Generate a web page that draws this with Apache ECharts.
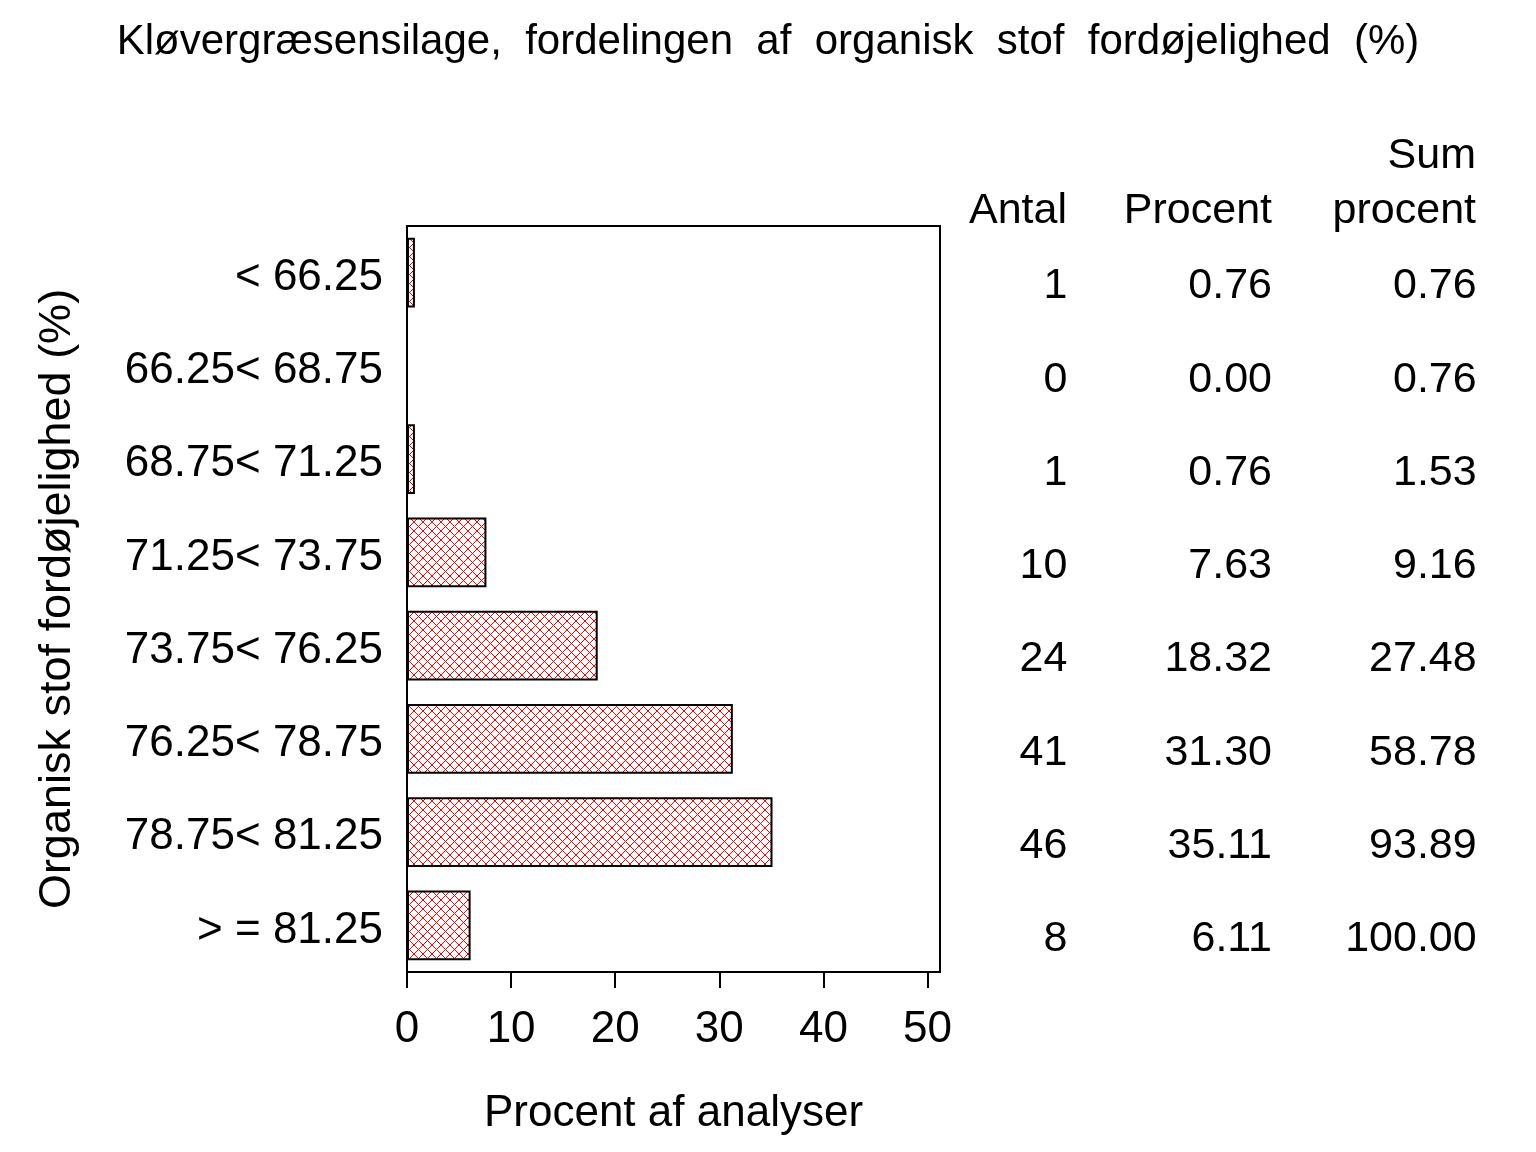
<!DOCTYPE html>
<html>
<head>
<meta charset="utf-8">
<script src="https://cdn.jsdelivr.net/npm/echarts@6/dist/echarts.min.js"></script>
<style>
  html, body { margin: 0; padding: 0; background: #fff; }
  #main { width: 1536px; height: 1152px; }
</style>
</head>
<body>
<div id="main"></div>
<script>
const categories = ['< 66.25', '66.25< 68.75', '68.75< 71.25', '71.25< 73.75',
  '73.75< 76.25', '76.25< 78.75', '78.75< 81.25', '> = 81.25'];
const antal = [1, 0, 1, 10, 24, 41, 46, 8];
const procent = [0.76, 0.00, 0.76, 7.63, 18.32, 31.30, 35.11, 6.11];
const sumProcent = [0.76, 0.76, 1.53, 9.16, 27.48, 58.78, 93.89, 100.00];
const xTicks = [0, 10, 20, 30, 40, 50];
const tableCols = ['Antal', 'Procent', 'Sum procent'];

const FONT = '"Liberation Sans", Arial, sans-serif';

// red cross-hatch fill
function hatch() {
  const c = document.createElement('canvas');
  c.width = 9; c.height = 9;
  const g = c.getContext('2d');
  g.fillStyle = '#fff';
  g.fillRect(0, 0, 9, 9);
  g.strokeStyle = '#ff0000';
  g.lineWidth = 1;
  g.beginPath();
  g.moveTo(0, 0); g.lineTo(9, 9);
  g.moveTo(9, 0); g.lineTo(0, 9);
  g.stroke();
  return c;
}

// table cells: [column, row, text]
const cells = [];
categories.forEach((c, i) => {
  cells.push([0, i, String(antal[i])]);
  cells.push([1, i, procent[i].toFixed(2)]);
  cells.push([2, i, sumProcent[i].toFixed(2)]);
});

const chart = echarts.init(document.getElementById('main'));
chart.setOption({
  animation: false,
  backgroundColor: '#fff',
  textStyle: { fontFamily: FONT, color: '#000' },
  title: {
    text: 'Kløvergræsensilage,  fordelingen  af  organisk  stof  fordøjelighed  (%)',
    left: 'center', top: 16,
    textStyle: { fontFamily: FONT, fontSize: 42, fontWeight: 'normal', color: '#000' }
  },
  grid: [
    { left: 407, top: 226, width: 533, bottom: 180, containLabel: false,
      show: true, borderColor: '#000', borderWidth: 2 },
    { left: 905, top: 226, width: 614, bottom: 180 }
  ],
  xAxis: [{
    gridIndex: 0, type: 'value', min: 0, max: 51.2, interval: 10,
    name: 'Procent af analyser', nameLocation: 'middle', nameGap: 120,
    nameTextStyle: { fontFamily: FONT, fontSize: 44, color: '#000' },
    axisLine: { show: true, lineStyle: { color: '#000', width: 2 } },
    axisTick: { show: true, length: 16, lineStyle: { color: '#000', width: 2 } },
    axisLabel: { fontFamily: FONT, fontSize: 44, color: '#000', margin: 36,
      showMaxLabel: false,
      formatter: v => xTicks.indexOf(v) >= 0 ? String(v) : '' },
    splitLine: { show: false }
  }, {
    gridIndex: 1, type: 'category', data: tableCols, show: false
  }],
  yAxis: [{
    gridIndex: 0, type: 'category', data: categories, inverse: true,
    name: 'Organisk stof fordøjelighed (%)', nameLocation: 'middle', nameGap: 327,
    nameTextStyle: { fontFamily: FONT, fontSize: 45, color: '#000' },
    axisLine: { show: false }, axisTick: { show: false },
    axisLabel: { color: '#000', margin: 24,
      formatter: v => '{a|' + v + '}',
      rich: { a: { fontFamily: FONT, fontSize: 44, color: '#000', padding: [10, 0, 0, 0] } } }
  }, {
    gridIndex: 1, type: 'category', data: categories, inverse: true, show: false
  }],
  series: [{
    type: 'bar', xAxisIndex: 0, yAxisIndex: 0,
    data: procent, barCategoryGap: '25%',
    itemStyle: {
      color: { image: hatch(), repeat: 'repeat' },
      borderColor: '#000', borderWidth: 2
    }
  }, {
    type: 'scatter', xAxisIndex: 1, yAxisIndex: 1,
    symbolSize: 0, itemStyle: { color: '#000' },
    data: cells.map(d => ({ value: [d[0], d[1]], text: d[2] })),
    label: {
      show: true, position: [60, 14], align: 'right', verticalAlign: 'middle',
      fontFamily: FONT, fontSize: 43, color: '#000', opacity: 1,
      formatter: p => p.data.text
    }
  }],
  graphic: [
    { type: 'text', right: 1536 - 1067, top: 190, style: { text: 'Antal', fontFamily: FONT, fontSize: 43, fill: '#000' } },
    { type: 'text', right: 1536 - 1272, top: 190, style: { text: 'Procent', fontFamily: FONT, fontSize: 43, fill: '#000' } },
    { type: 'text', right: 1536 - 1476, top: 135, style: { text: 'Sum', fontFamily: FONT, fontSize: 43, fill: '#000' } },
    { type: 'text', right: 1536 - 1476, top: 190, style: { text: 'procent', fontFamily: FONT, fontSize: 43, fill: '#000' } }
  ]
});
</script>
</body>
</html>
